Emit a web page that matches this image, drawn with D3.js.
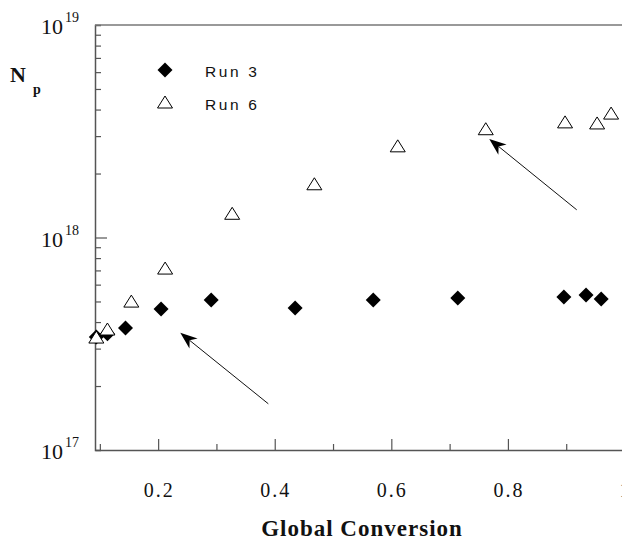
<!DOCTYPE html>
<html>
<head>
<meta charset="utf-8">
<script src="https://cdn.jsdelivr.net/npm/d3@7"></script>
<style>
  html, body { margin: 0; padding: 0; background: #fff; }
  svg { display: block; }
</style>
</head>
<body>
<svg id="chart" width="622" height="543"></svg>
<script>
// ---- data ----
const run3X = [0.094, 0.113, 0.144, 0.205, 0.291, 0.435, 0.569, 0.714, 0.896, 0.934, 0.960];
const run3Y = [3.40e17, 3.52e17, 3.75e17, 4.61e17, 5.08e17, 4.66e17, 5.08e17, 5.19e17, 5.25e17, 5.36e17, 5.14e17];
const run6X = [0.094, 0.113, 0.154, 0.212, 0.327, 0.468, 0.611, 0.762, 0.898, 0.953, 0.977];
const run6Y = [3.40e17, 3.71e17, 5.02e17, 7.18e17, 1.30e18, 1.79e18, 2.70e18, 3.25e18, 3.50e18, 3.46e18, 3.85e18];
const xMajorTicks = [0.2, 0.4, 0.6, 0.8, 1.0];
const xMajorLabels = ["0.2", "0.4", "0.6", "0.8", "1"];
const xMinorTicks = [0.1, 0.3, 0.5, 0.7, 0.9];
const yMajorTicks = [1e17, 1e18, 1e19];
const yMajorExponents = ["17", "18", "19"];
const legendLabels = ["Run 3", "Run 6"];
// annotation arrows in data coordinates: [x0, y0, x1(tip), y1(tip)]
const arrowFromX = [0.389, 0.918];
const arrowFromY = [1.65e17, 1.35e18];
const arrowToX = [0.238, 0.768];
const arrowToY = [3.56e17, 2.91e18];

// ---- scales ----
const svg = d3.select("#chart");
const x = d3.scaleLinear().domain([0.0917, 1.03]).range([95, 642]);
const y = d3.scaleLog().domain([1e17, 1e19]).range([450, 25]);
const axisColor = "#555";
const serif = "'Liberation Serif', 'Times New Roman', serif";
const sans = "'Liberation Sans', Arial, sans-serif";

// ---- axes ----
// left axis line + ticks (inward)
const yMinor = [];
for (let e = 17; e < 19; e++) for (let m = 2; m <= 9; m++) yMinor.push(m * Math.pow(10, e));
const gy = svg.append("g").attr("transform", "translate(95,0)");
gy.call(d3.axisRight(y).tickValues(yMinor).tickSize(6).tickFormat(""));
gy.append("g").call(d3.axisRight(y).tickValues([1e18]).tickSize(12).tickFormat(""));
gy.selectAll("path.domain").attr("stroke", axisColor).attr("stroke-width", 1.5);
gy.selectAll(".tick line").attr("stroke", axisColor).attr("stroke-width", 1.2);
gy.selectAll("g > g > path.domain").remove();

// bottom axis
const gx = svg.append("g").attr("transform", "translate(0,450)");
gx.call(d3.axisTop(x).tickValues(xMinorTicks).tickSize(6).tickFormat("").tickSizeOuter(0));
gx.append("g").call(d3.axisTop(x).tickValues(xMajorTicks).tickSize(11).tickFormat("").tickSizeOuter(0))
  .select("path.domain").remove();
gx.selectAll("path.domain").attr("stroke", axisColor).attr("stroke-width", 1.3);
gx.selectAll(".tick line").attr("stroke", axisColor).attr("stroke-width", 1.2);

// top frame line
svg.append("line")
  .attr("x1", x.range()[0]).attr("x2", x.range()[1])
  .attr("y1", y(1e19)).attr("y2", y(1e19))
  .attr("stroke", "#777").attr("stroke-width", 1.5);

// x tick labels
svg.append("g").selectAll("text").data(xMajorTicks).join("text")
  .attr("x", d => x(d) + 1)
  .attr("y", 497)
  .attr("text-anchor", "middle")
  .attr("font-family", serif)
  .attr("font-size", 20)
  .attr("letter-spacing", 2)
  .attr("fill", "#111")
  .text((d, i) => xMajorLabels[i]);

// y tick labels 10^n
const yl = svg.append("g");
yl.selectAll("text.base").data(yMajorTicks).join("text")
  .attr("class", "base")
  .attr("x", 63).attr("y", d => y(d) + 9)
  .attr("text-anchor", "end")
  .attr("font-family", serif).attr("font-size", 22).attr("fill", "#111")
  .text("10");
yl.selectAll("text.exp").data(yMajorTicks).join("text")
  .attr("class", "exp")
  .attr("x", 65).attr("y", d => y(d) - 3)
  .attr("font-family", serif).attr("font-size", 14).attr("fill", "#111")
  .text((d, i) => yMajorExponents[i]);

// axis titles
svg.append("text").attr("x", 10).attr("y", 82)
  .attr("font-family", serif).attr("font-weight", "bold").attr("font-size", 22).attr("fill", "#111")
  .text("N");
svg.append("text").attr("x", 33).attr("y", 94)
  .attr("font-family", serif).attr("font-weight", "bold").attr("font-size", 14).attr("fill", "#111")
  .text("p");
svg.append("text").attr("x", 362).attr("y", 536)
  .attr("text-anchor", "middle")
  .attr("font-family", serif).attr("font-weight", "bold").attr("font-size", 23)
  .attr("letter-spacing", 1).attr("fill", "#111")
  .text("Global Conversion");

// ---- markers ----
function diamondPath(cx, cy, r) {
  const p = d3.path();
  p.moveTo(cx, cy - r); p.lineTo(cx + r, cy); p.lineTo(cx, cy + r); p.lineTo(cx - r, cy); p.closePath();
  return p.toString();
}
function trianglePath(cx, cy, w, h) {
  const p = d3.path();
  p.moveTo(cx, cy - h / 2); p.lineTo(cx + w / 2, cy + h / 2); p.lineTo(cx - w / 2, cy + h / 2); p.closePath();
  return p.toString();
}

const run3 = run3X.map((v, i) => ({ x: v, y: run3Y[i] }));
const run6 = run6X.map((v, i) => ({ x: v, y: run6Y[i] }));

// triangles first? reference shows diamonds drawn over triangles at low conversion partially; draw diamonds then triangles
svg.append("g").selectAll("path").data(run3).join("path")
  .attr("d", d => diamondPath(x(d.x), y(d.y), 7.5))
  .attr("fill", "#000");
svg.append("g").selectAll("path").data(run6).join("path")
  .attr("d", d => trianglePath(x(d.x), y(d.y), 15, 12))
  .attr("fill", "#fff").attr("stroke", "#000").attr("stroke-width", 1);

// ---- legend ----
const lg = svg.append("g");
lg.append("path").attr("d", diamondPath(165, 70, 7.5)).attr("fill", "#000");
lg.append("path").attr("d", trianglePath(165, 102, 15, 12)).attr("fill", "#fff").attr("stroke", "#000");
lg.selectAll("text").data(legendLabels).join("text")
  .attr("x", 205).attr("y", (d, i) => 77 + i * 33)
  .attr("font-family", sans).attr("font-size", 15.5).attr("letter-spacing", 2.6)
  .attr("fill", "#111")
  .text(d => d);

// ---- arrows ----
const ag = svg.append("g");
arrowFromX.forEach((fx, i) => {
  const x0 = x(fx), y0 = y(arrowFromY[i]);
  const x1 = x(arrowToX[i]), y1 = y(arrowToY[i]);
  const dx = x1 - x0, dy = y1 - y0, L = Math.hypot(dx, dy);
  const ux = dx / L, uy = dy / L, nx = -uy, ny = ux;
  const headL = 17, headW = 6.5, notch = 5;
  ag.append("line")
    .attr("x1", x0).attr("y1", y0)
    .attr("x2", x1 - ux * (headL - notch)).attr("y2", y1 - uy * (headL - notch))
    .attr("stroke", "#111").attr("stroke-width", 1);
  const p = d3.path();
  p.moveTo(x1, y1);
  p.lineTo(x1 - ux * headL + nx * headW, y1 - uy * headL + ny * headW);
  p.lineTo(x1 - ux * (headL - notch), y1 - uy * (headL - notch));
  p.lineTo(x1 - ux * headL - nx * headW, y1 - uy * headL - ny * headW);
  p.closePath();
  ag.append("path").attr("d", p.toString()).attr("fill", "#000");
});
</script>
</body>
</html>
